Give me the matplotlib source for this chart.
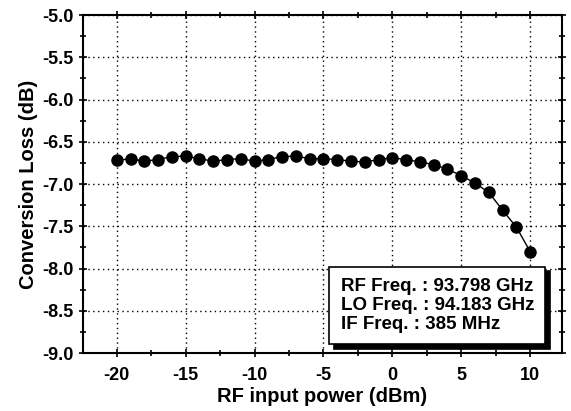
import numpy as np
import matplotlib.pyplot as plt
from matplotlib.ticker import MultipleLocator
from matplotlib.patches import Shadow

plt.rcParams['font.family'] = ['Liberation Sans', 'DejaVu Sans']
plt.rcParams['font.weight'] = 'bold'
plt.rcParams['axes.unicode_minus'] = False

# RF input power (dBm) and conversion loss (dB)
rf_power = np.arange(-20, 11)
conv_loss = [-6.72, -6.70, -6.73, -6.71, -6.675, -6.67, -6.70, -6.73, -6.71, -6.70,
             -6.73, -6.71, -6.675, -6.67, -6.70, -6.70, -6.71, -6.73, -6.74, -6.71,
             -6.69, -6.71, -6.74, -6.77, -6.825, -6.90, -6.99, -7.10, -7.31, -7.51,
             -7.80]

info_lines = ["RF Freq. : 93.798 GHz", "LO Freq. : 94.183 GHz", "IF Freq. : 385 MHz"]

fig = plt.figure(figsize=(5.71, 4.11), dpi=100)
ax = fig.add_axes([0.1454, 0.141, 0.8386, 0.8225])

ax.plot(rf_power, conv_loss, color='black', lw=1.0, marker='o', ms=8,
        markerfacecolor='black', zorder=3)

ax.set_xlim(-22.45, 12.3)
ax.set_ylim(-9.0, -5.0)
ax.xaxis.set_major_locator(MultipleLocator(5))
ax.xaxis.set_minor_locator(MultipleLocator(2.5))
ax.yaxis.set_major_locator(MultipleLocator(0.5))
ax.yaxis.set_minor_locator(MultipleLocator(0.25))
ax.yaxis.set_major_formatter(plt.FormatStrFormatter('%.1f'))

ax.grid(True, which='major', color='black', linestyle=(0, (1, 2.5)), lw=1.0)
ax.tick_params(which='both', direction='inout', top=True, right=True,
               labelsize=13, width=1.2)
ax.tick_params(which='major', length=6)
ax.tick_params(which='minor', length=4)
ax.tick_params(axis='x', pad=7)
ax.tick_params(axis='y', pad=4)
for s in ax.spines.values():
    s.set_linewidth(1.5)

ax.set_xlabel('RF input power (dBm)', fontsize=14.5, fontweight='bold', labelpad=2)
ax.set_ylabel('Conversion Loss (dB)', fontsize=14.5, fontweight='bold', labelpad=3)

t = ax.text(0.538, 0.14, "\n".join(info_lines), transform=ax.transAxes,
            fontsize=13.5, fontweight='bold', va='center', ha='left',
            linespacing=1.15, zorder=5,
            bbox=dict(boxstyle='square,pad=0.6', facecolor='white',
                      edgecolor='black', lw=1.2))
fig.canvas.draw()
patch = t.get_bbox_patch()
shadow = Shadow(patch, 3, -3, facecolor='black', edgecolor='black', alpha=1, zorder=4)
ax.add_artist(shadow)

fig.savefig('out.png', dpi=100)
